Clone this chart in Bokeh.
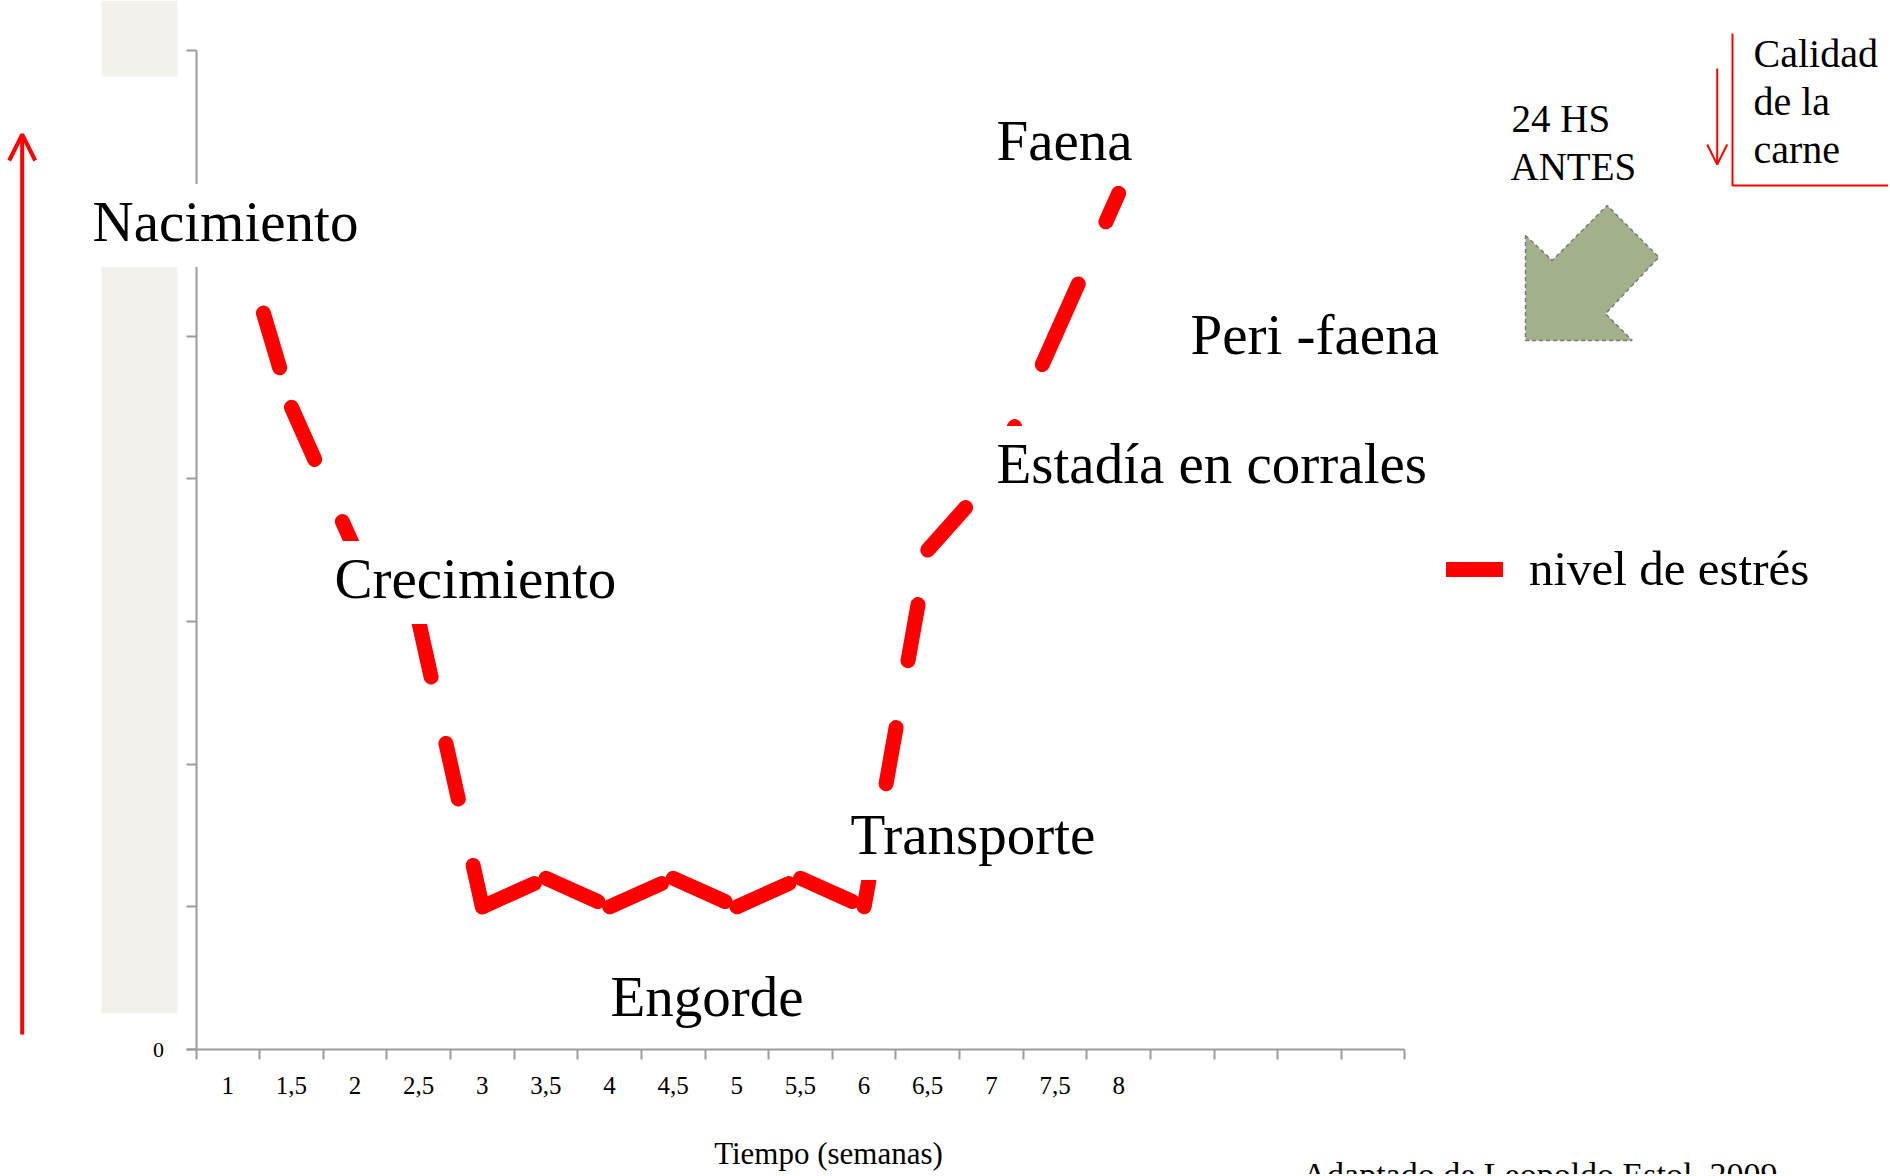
from bokeh.plotting import figure
from bokeh.models import (Range1d, LinearAxis, FixedTicker, ColumnDataSource, Arrow, OpenHead,
                          BoxAnnotation, Legend, LegendItem)
from bokeh.core.properties import value
from bokeh.embed import file_html
from bokeh.resources import INLINE

# ---------------- data ----------------
week_labels = ["1", "1,5", "2", "2,5", "3", "3,5", "4", "4,5", "5", "5,5", "6", "6,5", "7", "7,5", "8"]
stress_level = [6.0, 4.5, 3.5, 3.0, 1.0, 1.2, 1.0, 1.2, 1.0, 1.2, 1.0, 3.5, 4.0, 5.0, 6.0]
n_slots = 19
y_ticks = [0, 1, 2, 3, 4, 5, 6, 7]
y_label_ticks = [0]
y_labels = ["0"]
stage_names = ["Nacimiento", "Crecimiento", "Engorde", "Transporte",
               "Estadía en corrales", "Peri -faena", "Faena"]
note_lines = ["24 HS", "ANTES"]
quality_lines = ["Calidad", "de la", "carne"]
series_name = "nivel de estrés"
axis_title = "Tiempo (semanas)"
source_note = "Adaptado de Leopoldo Estol, 2009"

# ---------------- layout helpers (page pixels -> data units) ----------------
W, H = 1888, 1174
X0, UX = 195.5, 63.63
Y0, UY = 1049.0, 142.7


def dx(px):
    return (px - X0) / UX


def dy(py):
    return (Y0 - py) / UY


def base(py, fs, shift=0.0):
    # text anchor that puts the alphabetic baseline at page row py
    return dy(py - 0.35 * fs + shift)


FONT = "Liberation Serif"
GRAY = "#9b9b9b"
RED = "#ff0000"

p = figure(width=W, height=H,
           x_range=Range1d(dx(0), dx(W)), y_range=Range1d(dy(H), dy(0)),
           output_backend="svg", toolbar_location=None,
           x_axis_type=None, y_axis_type=None, min_border=0,
           outline_line_color=None, background_fill_color="white", border_fill_color="white")

# light panel on the left
for top, bottom in [(0, 76), (257, 1013)]:
    p.add_layout(BoxAnnotation(left=dx(101), right=dx(177), top=dy(top), bottom=dy(bottom),
                               fill_color="#f2f1ec", fill_alpha=1, line_color=None, level="underlay"))

# ---------------- axes ----------------
label_ticks = [i + 0.5 for i in range(len(week_labels))]
x_axis = LinearAxis(fixed_location=0,
                    ticker=FixedTicker(ticks=label_ticks, minor_ticks=list(range(n_slots + 1))),
                    bounds=(0, n_slots),
                    major_label_overrides={t: lab for t, lab in zip(label_ticks, week_labels)},
                    axis_line_color=GRAY, axis_line_width=2,
                    major_tick_line_color=None, major_tick_in=0, major_tick_out=0,
                    minor_tick_line_color=GRAY, minor_tick_line_width=2,
                    minor_tick_in=0, minor_tick_out=10,
                    major_label_standoff=17,
                    major_label_text_font=FONT, major_label_text_font_size="25px",
                    major_label_text_color="black")
p.add_layout(x_axis, "below")

y_axis = LinearAxis(fixed_location=0,
                    ticker=FixedTicker(ticks=y_label_ticks, minor_ticks=y_ticks), bounds=(0, 7),
                    major_label_overrides={t: lab for t, lab in zip(y_label_ticks, y_labels)},
                    axis_line_color=GRAY, axis_line_width=2,
                    major_tick_line_color=GRAY, major_tick_line_width=2,
                    major_tick_in=0, major_tick_out=10,
                    minor_tick_line_color=GRAY, minor_tick_line_width=2,
                    minor_tick_in=0, minor_tick_out=10,
                    major_label_standoff=22, major_label_text_font=FONT,
                    major_label_text_font_size="22px", major_label_text_color="black")
p.add_layout(y_axis, "left")

# ---------------- stress line (each segment restarts the dash) ----------------
xs = [[i + 0.5, i + 1.5] for i in range(len(stress_level) - 1)]
ys = [[stress_level[i], stress_level[i + 1]] for i in range(len(stress_level) - 1)]
line_r = p.multi_line("xs", "ys", source=ColumnDataSource(dict(xs=xs, ys=ys)),
                      line_color=RED, line_width=15, line_dash="57 68", line_cap="round")

legend = Legend(items=[LegendItem(label=value(series_name), renderers=[line_r])],
                location=(1446, 577), padding=0, margin=0, spacing=0,
                glyph_width=57, glyph_height=16, label_standoff=26,
                label_text_font=FONT, label_text_font_size="49px", label_text_color="black",
                background_fill_alpha=0, border_line_color=None)
p.add_layout(legend)

# ---------------- stage labels ----------------
FS = 57
PAD_L = 15
stage_pos = [(92, 240), (334, 597), (610, 1015), (850, 853), (996, 482), (1190, 353), (996, 159)]
stage_src = ColumnDataSource(dict(x=[dx(a - PAD_L) for a, b in stage_pos],
                                  y=[base(b, FS, 5) for a, b in stage_pos],
                                  text=stage_names))
p.text("x", "y", "text", source=stage_src, text_font=value(FONT), text_font_size=f"{FS}px",
       text_color="black", text_align="left", text_baseline="alphabetic",
       background_fill_color="white", padding=dict(left=PAD_L, right=5, top=6, bottom=14),
       level="annotation")

# 24 HS ANTES
note_pos = [(1511, 132), (1510, 180)]
p.text([dx(a) for a, b in note_pos], [base(b, 39) for a, b in note_pos], note_lines,
       text_font=value(FONT), text_font_size="39px", text_color="black",
       text_align="left", text_baseline="alphabetic")

# Calidad de la carne
q_pos = [(1753, 67), (1753, 115), (1753, 163)]
p.text([dx(a) for a, b in q_pos], [base(b, 40) for a, b in q_pos], quality_lines,
       text_font=value(FONT), text_font_size="40px", text_color="black",
       text_align="left", text_baseline="alphabetic")

# axis title and source note
p.text([dx(828)], [base(1164, 31)], [axis_title], text_font=value(FONT), text_font_size="31px",
       text_color="black", text_align="center", text_baseline="alphabetic")
p.text([dx(1302)], [base(1186, 34)], [source_note], text_font=value(FONT), text_font_size="34px",
       text_color="black", text_align="left", text_baseline="alphabetic")

# ---------------- decorations ----------------
p.add_layout(Arrow(end=OpenHead(size=26, line_color=RED, line_width=4),
                   x_start=dx(21.7), y_start=dy(1034), x_end=dx(21.7), y_end=dy(134),
                   line_color=RED, line_width=4))
p.add_layout(Arrow(end=OpenHead(size=20, line_color=RED, line_width=2),
                   x_start=dx(1716.7), y_start=dy(68), x_end=dx(1716.7), y_end=dy(164),
                   line_color=RED, line_width=2))
p.line([dx(1732), dx(1732), dx(1890)], [dy(33), dy(185), dy(185)], line_color=RED, line_width=2)

arrow_px = [(1525, 235), (1551.7, 260), (1606.7, 205), (1658.3, 256.7),
            (1605, 313.3), (1631.7, 340), (1525, 340)]
p.patch([dx(a) for a, b in arrow_px], [dy(b) for a, b in arrow_px],
        fill_color="#a2b08c", line_color="#7a7a7a", line_dash="4 3", line_width=1.5)

open("out.html", "w").write(file_html(p, INLINE))
